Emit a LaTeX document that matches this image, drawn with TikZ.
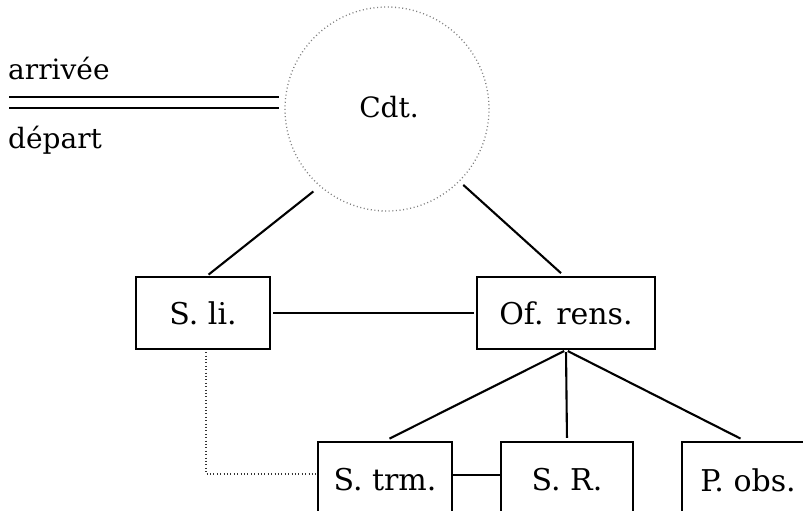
\documentclass[tikz,border=0pt]{standalone}
\usepackage{fontspec}
\setmainfont{DejaVu Serif}
\begin{document}
\begin{tikzpicture}[x=1pt,y=-1pt,
  every node/.style={font=\fontsize{28}{32}\selectfont},
  boxnode/.style={draw, line width=2.3pt, inner sep=0pt, minimum height=72pt, font=\fontsize{30}{34}\selectfont},
  lowbox/.style={boxnode, minimum height=76pt},
  link/.style={line width=2.1pt},
  dotline/.style={line width=1.3pt, dash pattern=on 1pt off 2.4pt, black!80},
  ringdots/.style={line width=1.3pt, dash pattern=on 1pt off 2.6pt, black!50}]
\useasboundingbox (0,0) rectangle (803,511);
\clip (0,0) rectangle (803,511);
\fill[white] (0,0) rectangle (803,511);
% commander
\node[circle, ringdots, draw, minimum size=204pt, inner sep=0pt] (cdt) at (387,109) {};
\node[inner sep=0pt] (cdtlabel) at (389,107) {Cdt.};
% arrivée / départ
\node[anchor=base west, inner sep=0pt] (arr) at (8,80) {arrivée};
\node[anchor=base west, inner sep=0pt] (dep) at (8,148) {départ};
\coordinate (dl) at (9,102.5);
\coordinate (dr) at (279,102.5);
\draw[line width=2pt, double, double distance=8.5pt] (dl) -- (dr);
% upper boxes
\node[boxnode, minimum width=134pt] (sli) at (203,313) {S. li.};
\node[boxnode, minimum width=178pt] (ofr) at (566,313) {Of. rens.};
% lower boxes
\node[lowbox, minimum width=134pt] (strm) at (385,480) {S. trm.};
\node[lowbox, minimum width=132pt] (sr) at (567,480) {S. R.};
\node[lowbox, minimum width=132pt] (pobs) at (748,480) {P. obs.};
% connectors
\draw[link, shorten <=8pt, shorten >=2pt] (cdt.229) -- ([xshift=4pt]sli.north);
\draw[link, shorten <=5pt, shorten >=4pt] (cdt.-45) -- ([xshift=-2pt]ofr.north);
\draw[link, shorten <=2pt, shorten >=2pt] (sli.east) -- (ofr.west);
\draw[link, shorten <=2pt, shorten >=5pt] (ofr.south) -- (strm.north);
\draw[link, shorten <=2pt, shorten >=3pt] (ofr.south) -- (sr.north);
\draw[link, shorten <=2pt, shorten >=5pt] (ofr.south) -- ([xshift=-3pt]pobs.north);
\draw[link] ([yshift=5pt]strm.east) -- ([yshift=5pt]sr.west);
\draw[dotline, shorten <=2pt] ([xshift=3pt]sli.south) |- ([yshift=6pt]strm.west);
\end{tikzpicture}
\end{document}
